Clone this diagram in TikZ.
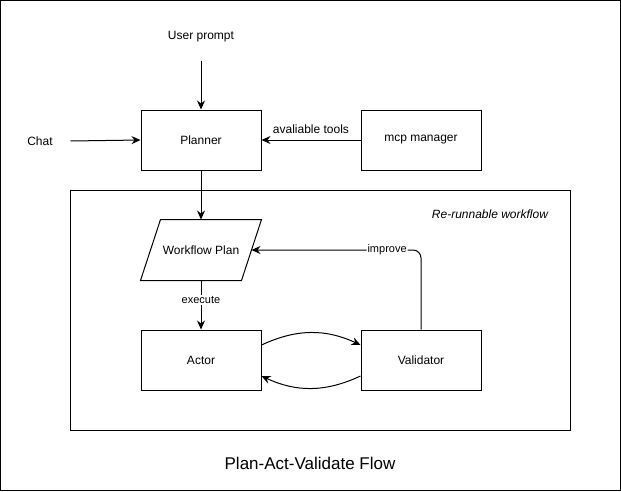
\documentclass[tikz,border=0pt]{standalone}
\usepackage{fontspec}
\setmainfont{Liberation Sans}
\usepackage{tikz}
\usetikzlibrary{positioning, arrows.meta, calc}

\begin{document}
\begin{tikzpicture}[x=1pt, y=-1pt, line width=1pt,
	box/.style={draw, minimum width=120pt, minimum height=60pt, font=\fontsize{12}{14}\selectfont},
	txt/.style={font=\fontsize{12}{14}\selectfont, inner sep=0pt},
	lbl/.style={font=\fontsize{11}{13}\selectfont, fill=white, inner sep=1pt},
	arr/.style={-{Stealth[length=9pt, width=8pt, inset=3pt]}}]
	\useasboundingbox (0,0) rectangle (621,491);
	% outer frame
	\draw (0.5,0.5) rectangle (620.5,490.5);
	% inputs
	\node[txt, minimum height=46pt] (prompt) at (201,37) {User prompt};
	\node[txt, minimum width=60pt] (chat) at (40,141) {Chat};
	% Planner and tools
	\node[box] (planner) at (201,140) {Planner};
	\node[box] (mcp) at (421,140) {mcp manager};
	\draw[arr] (prompt.south) -- (planner.north);
	\draw[arr] (chat.east) -- (planner.west);
	\draw[arr] (mcp.west) -- node[txt, above=6pt] {avaliable tools} (planner.east);
	% Re-runnable workflow
	\node[draw, minimum width=500pt, minimum height=240pt, inner sep=0pt] (wf) at (320,310) {};
	\node[txt, font=\fontsize{12}{14}\selectfont\itshape] (wflabel) at (490,214) {Re-runnable workflow};
	\node[txt, minimum width=100pt, minimum height=60pt] (plan) at (201,250) {Workflow Plan};
	\draw ($(plan.north west)+(10,0)$) -- ($(plan.north east)+(10,0)$)
		-- ($(plan.south east)+(-10,0)$) -- ($(plan.south west)+(-10,0)$) -- cycle;
	\node[box] (act) at (201,360) {Actor};
	\node[box] (val) at (421,360) {Validator};
	\draw[arr] (planner.south) -- (plan.north);
	\draw[arr] (plan.south) -- node[lbl, pos=0.4] {execute} (act.north);
	\draw[arr] ([yshift=15pt]act.east) to[out=25, in=155] ([yshift=15pt]val.west);
	\draw[arr] ([yshift=-16pt]val.west) to[out=-155, in=-25] ([yshift=-16pt]act.east);
	\draw[arr, rounded corners=8pt] (val.north) |- node[lbl, pos=0.6] {improve} (plan.east);
	% Title
	\node[font=\fontsize{17}{20}\selectfont] (title) at (310,463) {Plan-Act-Validate Flow};
\end{tikzpicture}
\end{document}
